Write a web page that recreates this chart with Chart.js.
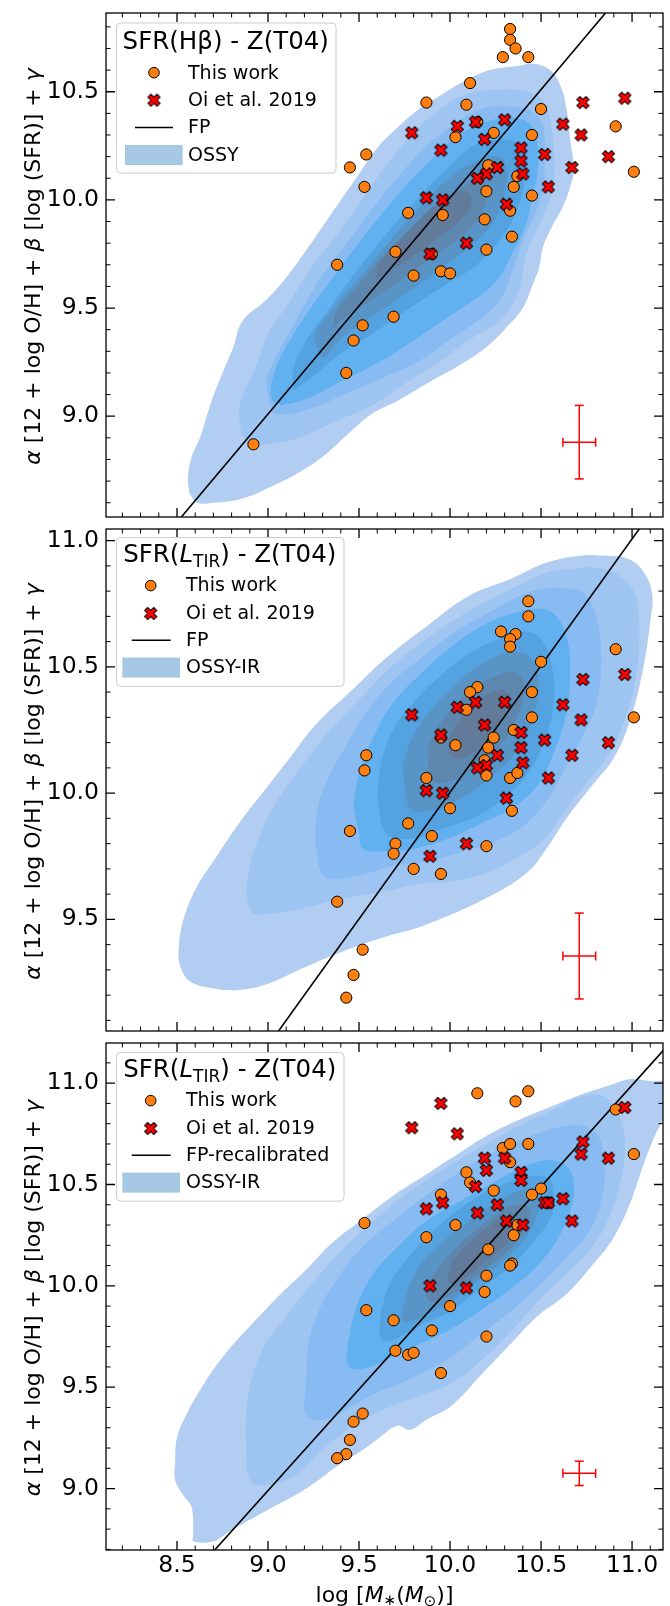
<!DOCTYPE html>
<html><head><meta charset="utf-8">
<script src="https://cdn.jsdelivr.net/npm/chart.js@4.4.1/dist/chart.umd.min.js"></script>
<style>
html,body{margin:0;padding:0;background:#fff;}
#wrap{position:relative;width:670px;height:1606px;overflow:hidden;}
canvas{position:absolute;left:0;}
</style></head><body>
<div id="wrap">
<canvas id="c1" width="670" height="524" style="top:0px"></canvas>
<canvas id="c2" width="670" height="516" style="top:522px"></canvas>
<canvas id="c3" width="670" height="570" style="top:1036px"></canvas>
</div>
<script>
// ---------------- DATA ----------------
const xRange = [8.11, 11.17];
const yRangeP1 = [8.534, 10.864];
const yRangeP2 = [9.058, 11.046];
const yRangeP3 = [8.697, 11.198];

// "This work"
const thisWorkMassP1 = [10.33,10.33,10.36,10.29,10.43,10.11,9.87,10.09,10.50,10.15,10.03,10.24,10.45,10.91,9.54,9.45,10.21,10.37,11.01,9.53,10.20,10.35,10.45,9.77,9.96,10.19,10.33,10.34,9.70,9.90,10.20,9.38,9.80,9.95,10.00,9.69,9.52,9.47,9.43,8.92];
const thisWorkP1 = [10.79,10.74,10.70,10.66,10.66,10.54,10.45,10.44,10.42,10.36,10.29,10.31,10.30,10.34,10.21,10.15,10.16,10.11,10.13,10.06,10.04,10.06,10.02,9.94,9.93,9.91,9.95,9.83,9.76,9.75,9.77,9.70,9.65,9.67,9.66,9.46,9.42,9.35,9.20,8.87];
const thisWorkMassP2 = [10.43,10.43,10.28,10.36,10.33,10.33,10.91,10.50,10.15,10.11,10.45,10.09,10.45,11.01,9.95,10.35,10.24,10.03,10.21,9.54,9.53,10.19,10.20,9.87,10.33,10.37,10.00,10.34,9.77,9.45,9.70,9.90,9.69,10.20,9.80,9.95,9.38,9.52,9.47,9.43];
const thisWorkP2 = [10.76,10.70,10.64,10.63,10.61,10.58,10.57,10.52,10.42,10.40,10.40,10.33,10.30,10.30,10.22,10.25,10.22,10.19,10.18,10.15,10.09,10.13,10.07,10.06,10.06,10.08,9.94,9.93,9.88,9.85,9.80,9.83,9.76,9.79,9.70,9.68,9.57,9.38,9.28,9.19];
const thisWorkMassP3 = [10.43,10.15,10.36,10.29,10.33,10.43,10.33,11.01,10.91,10.09,10.11,10.24,9.95,10.45,10.50,10.54,9.53,10.03,10.37,9.87,10.35,10.21,10.34,10.33,10.20,10.19,10.00,9.54,9.69,9.90,10.20,9.70,9.77,9.80,9.95,9.52,9.47,9.45,9.43,9.38];
const thisWorkP3 = [10.96,10.95,10.91,10.68,10.70,10.70,10.61,10.65,10.87,10.56,10.51,10.47,10.45,10.45,10.48,10.41,10.31,10.30,10.30,10.24,10.25,10.18,10.11,10.10,10.05,9.97,9.90,9.88,9.83,9.78,9.75,9.68,9.66,9.67,9.57,9.37,9.33,9.24,9.17,9.15];

// "Oi et al. 2019"
const oiMass = [9.79,9.95,10.04,10.14,10.30,10.19,10.39,10.39,10.52,10.62,10.73,10.72,10.96,10.87,10.67,10.26,10.20,10.15,10.40,10.54,9.87,9.96,10.31,10.09,9.89];
const oiP1 = [10.31,10.23,10.34,10.36,10.37,10.28,10.24,10.18,10.21,10.35,10.45,10.30,10.47,10.20,10.15,10.15,10.12,10.10,10.12,10.06,10.01,10.00,9.98,9.80,9.75];
const oiP2 = [10.31,10.23,10.34,10.36,10.36,10.27,10.24,10.18,10.21,10.35,10.45,10.29,10.47,10.20,10.15,10.15,10.11,10.10,10.12,10.06,10.01,10.00,9.98,9.80,9.75];
const oiP3 = [10.78,10.90,10.75,10.49,10.63,10.63,10.56,10.52,10.41,10.43,10.71,10.65,10.88,10.63,10.32,10.40,10.57,10.36,10.30,10.41,10.38,10.41,10.32,9.99,10.00];

// FP lines (two end points each)
const fpP1 = [[8.30,8.31],[11.00,11.01]];
const fpP2 = [[9.00,9.00],[11.10,11.107]];
const fpP3 = [[8.50,8.49],[11.30,11.29]];

// typical error bars: [x, y, xerr, yerr]
const errP1 = [10.71, 8.88, 0.09, 0.17];
const errP2 = [10.71, 9.355, 0.09, 0.17];
const errP3 = [10.71, 9.075, 0.09, 0.06];

// OSSY KDE filled contours (outer -> inner), vertices [mass, y]
const ossyP1 = [
 [[8.57,8.64],[8.56,8.71],[8.58,8.81],[8.63,8.91],[8.69,9.07],[8.76,9.22],[8.81,9.32],[8.86,9.44],[8.98,9.53],[9.07,9.61],[9.17,9.72],[9.27,9.84],[9.40,10.00],[9.50,10.12],[9.59,10.23],[9.68,10.31],[9.83,10.42],[9.96,10.49],[10.08,10.55],[10.22,10.60],[10.38,10.62],[10.45,10.63],[10.55,10.60],[10.61,10.52],[10.64,10.42],[10.66,10.28],[10.68,10.14],[10.66,10.06],[10.62,9.97],[10.55,9.86],[10.51,9.78],[10.49,9.69],[10.45,9.60],[10.40,9.50],[10.31,9.41],[10.20,9.32],[10.06,9.24],[9.87,9.15],[9.71,9.07],[9.57,9.01],[9.43,8.91],[9.31,8.82],[9.17,8.74],[9.03,8.68],[8.86,8.62],[8.70,8.60],[8.61,8.60]],
 [[8.88,8.88],[8.85,8.94],[8.85,9.07],[8.93,9.22],[9.00,9.38],[9.12,9.53],[9.24,9.69],[9.38,9.84],[9.50,9.98],[9.64,10.15],[9.80,10.31],[9.96,10.43],[10.10,10.49],[10.29,10.51],[10.43,10.50],[10.51,10.46],[10.55,10.37],[10.57,10.23],[10.57,10.09],[10.54,9.98],[10.48,9.87],[10.42,9.75],[10.37,9.56],[10.27,9.44],[10.10,9.35],[9.94,9.25],[9.75,9.15],[9.57,9.05],[9.38,8.98],[9.17,8.90],[8.98,8.87]],
 [[9.03,9.01],[8.99,9.15],[9.03,9.25],[9.12,9.39],[9.21,9.53],[9.33,9.69],[9.47,9.84],[9.59,9.98],[9.73,10.12],[9.87,10.25],[10.01,10.34],[10.17,10.42],[10.34,10.43],[10.45,10.41],[10.51,10.34],[10.52,10.21],[10.51,10.06],[10.47,9.94],[10.41,9.83],[10.35,9.69],[10.29,9.56],[10.20,9.47],[10.01,9.36],[9.82,9.25],[9.64,9.18],[9.47,9.12],[9.28,9.05],[9.12,9.01]],
 [[9.07,9.05],[9.02,9.08],[9.03,9.19],[9.10,9.32],[9.21,9.47],[9.33,9.61],[9.47,9.77],[9.61,9.92],[9.75,10.06],[9.89,10.18],[10.03,10.29],[10.20,10.36],[10.34,10.38],[10.44,10.35],[10.48,10.26],[10.48,10.12],[10.45,10.00],[10.41,9.87],[10.34,9.75],[10.27,9.64],[10.17,9.56],[10.01,9.47],[9.82,9.36],[9.61,9.25],[9.40,9.16],[9.21,9.08]],
 [[9.14,9.12],[9.14,9.22],[9.21,9.35],[9.33,9.49],[9.45,9.63],[9.59,9.78],[9.73,9.92],[9.85,10.03],[9.99,10.15],[10.13,10.25],[10.27,10.28],[10.37,10.26],[10.41,10.17],[10.40,10.04],[10.34,9.90],[10.24,9.78],[10.13,9.69],[9.96,9.60],[9.78,9.50],[9.59,9.39],[9.40,9.29],[9.24,9.18]],
 [[9.28,9.29],[9.26,9.38],[9.35,9.49],[9.47,9.61],[9.59,9.73],[9.73,9.87],[9.87,10.00],[10.01,10.11],[10.15,10.18],[10.27,10.20],[10.31,10.14],[10.30,10.03],[10.24,9.90],[10.13,9.80],[9.96,9.69],[9.78,9.58],[9.59,9.47],[9.40,9.36],[9.31,9.27]],
 [[9.35,9.40],[9.38,9.49],[9.50,9.61],[9.61,9.72],[9.75,9.84],[9.89,9.95],[10.03,10.04],[10.15,10.09],[10.20,10.06],[10.19,9.97],[10.10,9.86],[9.96,9.77],[9.78,9.66],[9.59,9.55],[9.43,9.46]],
 [[9.59,9.63],[9.61,9.70],[9.71,9.80],[9.82,9.90],[9.96,10.00],[10.08,10.04],[10.12,10.00],[10.07,9.92],[9.94,9.83],[9.78,9.73],[9.64,9.66]]
];
const ossyP2 = [
 [[8.75,9.22],[8.58,9.25],[8.52,9.31],[8.51,9.39],[8.54,9.51],[8.61,9.63],[8.70,9.73],[8.84,9.88],[8.98,10.01],[9.12,10.14],[9.26,10.27],[9.45,10.40],[9.64,10.53],[9.87,10.66],[10.10,10.78],[10.34,10.85],[10.52,10.91],[10.71,10.94],[10.85,10.94],[10.97,10.93],[11.06,10.88],[11.11,10.79],[11.10,10.68],[11.06,10.49],[10.99,10.29],[10.90,10.14],[10.78,10.03],[10.64,9.90],[10.52,9.77],[10.43,9.69],[10.24,9.60],[9.87,9.48],[9.64,9.43],[9.40,9.37],[9.17,9.30],[8.98,9.24],[8.84,9.22]],
 [[8.88,9.60],[8.90,9.71],[8.96,9.84],[9.05,9.97],[9.19,10.11],[9.33,10.24],[9.50,10.37],[9.66,10.49],[9.87,10.61],[10.10,10.72],[10.34,10.81],[10.52,10.87],[10.69,10.89],[10.83,10.89],[10.95,10.85],[11.02,10.78],[11.04,10.62],[11.02,10.45],[10.96,10.29],[10.88,10.16],[10.76,10.05],[10.64,9.94],[10.52,9.82],[10.38,9.75],[10.22,9.69],[10.01,9.65],[9.82,9.64],[9.64,9.61],[9.40,9.58],[9.17,9.54],[8.98,9.52],[8.91,9.53]],
 [[9.26,9.80],[9.27,9.93],[9.33,10.06],[9.43,10.19],[9.54,10.32],[9.68,10.44],[9.85,10.54],[10.01,10.63],[10.20,10.71],[10.38,10.78],[10.52,10.81],[10.64,10.81],[10.74,10.79],[10.81,10.68],[10.83,10.53],[10.81,10.37],[10.74,10.24],[10.64,10.11],[10.55,9.99],[10.45,9.90],[10.29,9.82],[10.08,9.77],[9.87,9.73],[9.68,9.71],[9.47,9.67],[9.31,9.67]],
 [[9.47,9.95],[9.50,10.08],[9.57,10.21],[9.68,10.35],[9.82,10.46],[9.99,10.57],[10.17,10.66],[10.34,10.71],[10.48,10.73],[10.57,10.71],[10.64,10.62],[10.66,10.48],[10.64,10.32],[10.57,10.16],[10.48,10.03],[10.34,9.94],[10.17,9.88],[9.99,9.82],[9.80,9.78],[9.64,9.77],[9.52,9.78],[9.50,9.84]],
 [[9.60,9.99],[9.62,10.11],[9.68,10.24],[9.80,10.36],[9.94,10.46],[10.10,10.55],[10.27,10.61],[10.41,10.64],[10.50,10.61],[10.56,10.50],[10.57,10.36],[10.52,10.21],[10.43,10.08],[10.31,9.99],[10.15,9.91],[9.96,9.86],[9.78,9.82],[9.65,9.84]],
 [[9.74,10.11],[9.80,10.23],[9.92,10.35],[10.06,10.45],[10.22,10.53],[10.36,10.56],[10.45,10.53],[10.49,10.42],[10.45,10.29],[10.36,10.16],[10.22,10.06],[10.06,9.98],[9.89,9.93],[9.78,9.94]],
 [[9.88,10.19],[9.96,10.29],[10.10,10.40],[10.24,10.46],[10.36,10.48],[10.41,10.42],[10.38,10.32],[10.29,10.20],[10.15,10.11],[10.01,10.05],[9.90,10.05]],
 [[10.03,10.27],[10.13,10.35],[10.24,10.40],[10.31,10.40],[10.31,10.33],[10.24,10.24],[10.13,10.16],[10.02,10.14],[9.99,10.19]]
];
const ossyP3 = [
 [[8.59,8.77],[8.59,8.74],[8.70,8.74],[8.79,8.79],[9.03,8.91],[9.21,9.00],[9.38,9.11],[9.52,9.19],[9.61,9.25],[9.71,9.31],[9.78,9.29],[9.87,9.34],[10.01,9.41],[10.17,9.56],[10.34,9.72],[10.48,9.85],[10.64,9.96],[10.78,10.10],[10.90,10.24],[10.99,10.41],[11.06,10.59],[11.12,10.73],[11.20,10.89],[11.19,11.00],[11.10,11.01],[10.99,11.02],[10.88,10.99],[10.74,10.95],[10.57,10.89],[10.38,10.82],[10.22,10.75],[10.06,10.66],[9.87,10.55],[9.68,10.44],[9.52,10.33],[9.35,10.21],[9.21,10.08],[9.07,9.96],[8.91,9.81],[8.77,9.67],[8.65,9.52],[8.56,9.38],[8.50,9.25],[8.49,9.13],[8.49,9.04],[8.54,8.96],[8.58,8.91]],
 [[8.88,9.18],[8.88,9.36],[8.91,9.54],[8.98,9.70],[9.10,9.85],[9.24,10.01],[9.40,10.17],[9.59,10.33],[9.80,10.48],[10.01,10.60],[10.20,10.70],[10.38,10.79],[10.57,10.87],[10.71,10.93],[10.83,10.94],[10.90,10.89],[10.95,10.78],[10.96,10.64],[10.93,10.50],[10.88,10.35],[10.78,10.19],[10.64,10.06],[10.50,9.94],[10.34,9.78],[10.17,9.63],[10.01,9.52],[9.87,9.47],[9.75,9.43],[9.61,9.38],[9.47,9.31],[9.31,9.20],[9.12,9.05],[8.93,9.02],[8.89,9.07]],
 [[9.21,9.52],[9.22,9.70],[9.28,9.88],[9.40,10.06],[9.54,10.21],[9.73,10.35],[9.92,10.48],[10.10,10.59],[10.29,10.68],[10.48,10.75],[10.64,10.79],[10.76,10.78],[10.83,10.71],[10.85,10.57],[10.83,10.42],[10.76,10.26],[10.64,10.14],[10.50,10.01],[10.34,9.88],[10.17,9.76],[10.01,9.65],[9.87,9.58],[9.73,9.52],[9.59,9.47],[9.45,9.40],[9.31,9.34],[9.21,9.36]],
 [[9.44,9.72],[9.48,9.88],[9.57,10.05],[9.71,10.19],[9.87,10.32],[10.06,10.42],[10.24,10.51],[10.41,10.59],[10.55,10.62],[10.64,10.59],[10.68,10.50],[10.66,10.37],[10.59,10.23],[10.48,10.10],[10.34,9.99],[10.17,9.88],[10.01,9.79],[9.85,9.72],[9.68,9.65],[9.52,9.59],[9.44,9.61]],
 [[9.62,9.87],[9.67,10.01],[9.78,10.15],[9.92,10.28],[10.10,10.41],[10.29,10.50],[10.43,10.54],[10.54,10.53],[10.57,10.44],[10.55,10.33],[10.45,10.21],[10.34,10.10],[10.17,9.99],[10.01,9.88],[9.85,9.81],[9.68,9.73],[9.62,9.74]],
 [[9.76,9.97],[9.85,10.12],[9.99,10.24],[10.15,10.35],[10.31,10.44],[10.43,10.48],[10.49,10.44],[10.48,10.35],[10.41,10.23],[10.29,10.12],[10.13,10.01],[9.96,9.90],[9.80,9.83],[9.74,9.83]],
 [[9.88,10.01],[9.96,10.12],[10.08,10.23],[10.22,10.33],[10.36,10.40],[10.43,10.39],[10.43,10.32],[10.36,10.21],[10.22,10.10],[10.06,9.99],[9.92,9.92],[9.87,9.94]],
 [[10.01,10.12],[10.10,10.21],[10.24,10.31],[10.34,10.34],[10.37,10.30],[10.31,10.21],[10.17,10.10],[10.03,10.01],[9.99,10.03]]
];
const ossyColors = ['#b1cdf1','#9ec5f2','#88bbf1','#61b0f0','#54a2e0','#5994c7','#5e87af','#627b9a'];

// ---------------- STYLE / HELPERS ----------------
const FAM = '"DejaVu Sans"';
Chart.defaults.font.family = 'DejaVu Sans';
Chart.defaults.color = '#000';
const TICK_FONT = 23.5, LEG_FONT = 19, LEG_TITLE = 24.5, AX_FONT = 22;
const ORANGE = '#ff7f0e', RED = '#ff0000';

function makeX(size){
  const S = Math.ceil(size + 4);
  const c = document.createElement('canvas'); c.width = S; c.height = S;
  const g = c.getContext('2d');
  g.translate(S/2, S/2); g.rotate(Math.PI/4);
  const k = size/6;
  const pts = [[-1,-3],[1,-3],[1,-1],[3,-1],[3,1],[1,1],[1,3],[-1,3],[-1,1],[-3,1],[-3,-1],[-1,-1]];
  g.beginPath();
  pts.forEach((p,i)=>{ const X=p[0]*k, Y=p[1]*k; i ? g.lineTo(X,Y) : g.moveTo(X,Y); });
  g.closePath();
  g.fillStyle = RED; g.fill();
  g.lineWidth = 1; g.strokeStyle = '#000'; g.stroke();
  return c;
}
const xMarker = makeX(13);

function toXY(xs, ys){ return xs.map((x,i)=>({x:x, y:ys[i]})); }

function runsWidth(ctx, runs){ let w=0; for(const r of runs){ ctx.font=r.f; w+=ctx.measureText(r.t).width; } return w; }
function drawRuns(ctx, runs, x, y, align){
  const w = runsWidth(ctx, runs);
  let cx = align==='center' ? x - w/2 : x;
  ctx.textAlign='left'; ctx.textBaseline='alphabetic'; ctx.fillStyle='#000';
  for(const r of runs){ ctx.font=r.f; ctx.fillText(r.t, cx, y + (r.dy||0)); cx += ctx.measureText(r.t).width; }
}
const nf = s => s + 'px ' + FAM;
const itf = s => 'italic ' + s + 'px ' + FAM;

const yTitleRuns = [
  {t:'α', f:itf(AX_FONT)}, {t:' [12 + log O/H] + ', f:nf(AX_FONT)},
  {t:'β', f:itf(AX_FONT)}, {t:' [log (SFR)] + ', f:nf(AX_FONT)},
  {t:'γ', f:itf(AX_FONT)}
];
const xTitleRuns = [
  {t:'log [', f:nf(AX_FONT)}, {t:'M', f:itf(AX_FONT)}, {t:'∗', f:nf(15), dy:3},
  {t:'(', f:nf(AX_FONT)}, {t:'M', f:itf(AX_FONT)}, {t:'⊙', f:nf(15), dy:4}, {t:')]', f:nf(AX_FONT)}
];
const titleHb = [{t:'SFR(Hβ) - Z(T04)', f:nf(LEG_TITLE)}];
const titleTIR = [{t:'SFR(', f:nf(LEG_TITLE)}, {t:'L', f:itf(LEG_TITLE)}, {t:'TIR', f:nf(17), dy:5}, {t:') - Z(T04)', f:nf(LEG_TITLE)}];

function roundRect(ctx,x,y,w,h,r){
  ctx.beginPath(); ctx.moveTo(x+r,y); ctx.lineTo(x+w-r,y); ctx.quadraticCurveTo(x+w,y,x+w,y+r);
  ctx.lineTo(x+w,y+h-r); ctx.quadraticCurveTo(x+w,y+h,x+w-r,y+h); ctx.lineTo(x+r,y+h);
  ctx.quadraticCurveTo(x,y+h,x,y+h-r); ctx.lineTo(x,y+r); ctx.quadraticCurveTo(x,y,x+r,y); ctx.closePath();
}

function drawLegend(ctx, L){
  const b = L.box;
  ctx.save();
  roundRect(ctx, b[0]+0.5, b[1]+0.5, b[2]-b[0], b[3]-b[1], 4);
  ctx.fillStyle='rgba(255,255,255,0.8)'; ctx.fill();
  ctx.strokeStyle='#cccccc'; ctx.lineWidth=1; ctx.stroke();
  drawRuns(ctx, L.title, (b[0]+b[2])/2, b[1]+L.titleBase, 'center');
  const rows = L.rows.map(r=>b[1]+r);
  ctx.beginPath(); ctx.arc(L.mx, rows[0], 5.3, 0, Math.PI*2);
  ctx.fillStyle=ORANGE; ctx.fill(); ctx.lineWidth=1; ctx.strokeStyle='#000'; ctx.stroke();
  ctx.drawImage(xMarker, L.mx - xMarker.width/2, rows[1] - xMarker.height/2);
  ctx.beginPath(); ctx.moveTo(L.line[0], rows[2]); ctx.lineTo(L.line[1], rows[2]);
  ctx.lineWidth=1.6; ctx.strokeStyle='#000'; ctx.stroke();
  ctx.fillStyle=L.patchColor; ctx.fillRect(L.patch[0], rows[3]-10, L.patch[1]-L.patch[0], 20);
  L.labels.forEach((t,i)=>drawRuns(ctx, [{t:t, f:nf(LEG_FONT)}], L.tx, rows[i]+5.8, 'left'));
  ctx.restore();
}

const decor = {
  id:'decor',
  afterDatasetsDraw(chart, args, opts){
    const ctx = chart.ctx, a = chart.chartArea;
    const xs = chart.scales.x, ys = chart.scales.y;
    ctx.save();
    ctx.strokeStyle='#000';
    const ticks = (scale, horiz) => {
      const lo = Math.ceil(scale.min*10 - 1e-6), hi = Math.floor(scale.max*10 + 1e-6);
      for (let k=lo; k<=hi; k++){
        const major = (k % 5 === 0);
        const len = major ? 9 : 4.5;
        const p = scale.getPixelForValue(k/10);
        ctx.lineWidth = major ? 1.3 : 1.0;
        ctx.beginPath();
        if (horiz){ ctx.moveTo(p,a.bottom); ctx.lineTo(p,a.bottom-len); ctx.moveTo(p,a.top); ctx.lineTo(p,a.top+len); }
        else { ctx.moveTo(a.left,p); ctx.lineTo(a.left+len,p); ctx.moveTo(a.right,p); ctx.lineTo(a.right-len,p); }
        ctx.stroke();
      }
    };
    ticks(xs, true); ticks(ys, false);
    ctx.lineWidth = 1.3;
    ctx.strokeRect(a.left, a.top, a.right-a.left, a.bottom-a.top);
    drawLegend(ctx, opts.legend);
    ctx.save();
    ctx.translate(40, (a.top+a.bottom)/2 + 1.5);
    ctx.rotate(-Math.PI/2);
    drawRuns(ctx, yTitleRuns, 0, 0, 'center');
    ctx.restore();
    if (opts.xTitle){ drawRuns(ctx, xTitleRuns, (a.left+a.right)/2, a.bottom + 51.5, 'center'); }
    ctx.restore();
  }
};

function makePanel(id, cfg){
  const ds = [];
  cfg.ossy.forEach((pts,i)=>{
    ds.push({
      data: pts.concat([pts[0]]).map(p=>({x:p[0], y:p[1]})),
      showLine:true, fill:'shape', backgroundColor:ossyColors[i], borderColor:'rgba(0,0,0,0)',
      borderWidth:0, pointRadius:0, pointHoverRadius:0, tension:0.4, order:100-i
    });
  });
  ds.push({ data: cfg.fp.map(p=>({x:p[0], y:p[1]})), showLine:true, borderColor:'#000', borderWidth:1.6,
            pointRadius:0, fill:false, tension:0, order:10 });
  const e = cfg.err;
  ds.push({ data:[{x:e[0], y:e[1]-e[3]}, {x:e[0], y:e[1]+e[3]}], showLine:true, borderColor:RED, borderWidth:1.5,
            pointStyle:'line', pointRadius:4.5, pointBorderColor:RED, pointBorderWidth:1.5, pointRotation:0, fill:false, order:9 });
  ds.push({ data:[{x:e[0]-e[2], y:e[1]}, {x:e[0]+e[2], y:e[1]}], showLine:true, borderColor:RED, borderWidth:1.5,
            pointStyle:'line', pointRadius:4.5, pointBorderColor:RED, pointBorderWidth:1.5, pointRotation:90, fill:false, order:9 });
  ds.push({ data: toXY(cfg.twX, cfg.twY), pointRadius:5.6, pointBackgroundColor:ORANGE, pointBorderColor:'#000',
            pointBorderWidth:1, order:5 });
  ds.push({ data: toXY(oiMass, cfg.oiY), pointStyle:xMarker, pointRadius:6, order:1 });

  return new Chart(document.getElementById(id), {
    type:'scatter',
    data:{ datasets: ds },
    options:{
      responsive:false, animation:false, devicePixelRatio:1,
      events:[],
      layout:{ padding:{ top:cfg.padTop, bottom:cfg.padBottom, left:0, right:6.5 } },
      plugins:{ legend:{display:false}, tooltip:{enabled:false},
                decor:{ legend:cfg.legend, xTitle:cfg.showX } },
      scales:{
        x:{ type:'linear', min:xRange[0], max:xRange[1], display:cfg.showX,
            grid:{display:false, drawTicks:false}, border:{display:false},
            ticks:{ stepSize:0.5, includeBounds:false, padding:2, font:{size:TICK_FONT}, color:'#000',
                    callback:v=>v.toFixed(1) },
            afterFit:s=>{ s.height = cfg.showX ? 56 : 0; s.paddingLeft = 0; s.paddingRight = 0; } },
        y:{ type:'linear', min:cfg.yr[0], max:cfg.yr[1],
            grid:{display:false, drawTicks:false}, border:{display:false},
            ticks:{ stepSize:0.5, includeBounds:false, padding:7, font:{size:TICK_FONT}, color:'#000',
                    callback:v=>v.toFixed(1) },
            afterFit:s=>{ s.width = 106; s.paddingTop = 0; s.paddingBottom = 0; } }
      }
    },
    plugins:[decor]
  });
}

const legP1 = { box:[116,22.5,335.5,172.6], title:titleHb, titleBase:26.8, rows:[50.2,77.7,105,132.5],
  mx:154, line:[135,173], patch:[125,182.7], tx:188, patchColor:'#a5c9e4', labels:['This work','Oi et al. 2019','FP','OSSY'] };
const legP2 = { box:[116,15,343.5,163.8], title:titleTIR, titleBase:25, rows:[48.6,76.5,103.3,130.6],
  mx:150.7, line:[131.7,170.7], patch:[122.3,180], tx:186, patchColor:'#a5c9e4', labels:['This work','Oi et al. 2019','FP','OSSY-IR'] };
const legP3 = { box:[116,16,343.5,164.6], title:titleTIR, titleBase:25, rows:[48.6,76.5,103.3,130.6],
  mx:150.7, line:[131.7,170.7], patch:[122.3,180], tx:186, patchColor:'#a5c9e4', labels:['This work','Oi et al. 2019','FP-recalibrated','OSSY-IR'] };

makePanel('c1', { yr:yRangeP1, ossy:ossyP1, fp:fpP1, err:errP1, twX:thisWorkMassP1, twY:thisWorkP1, oiY:oiP1,
                  padTop:13, padBottom:2, showX:false, legend:legP1 });
makePanel('c2', { yr:yRangeP2, ossy:ossyP2, fp:fpP2, err:errP2, twX:thisWorkMassP2, twY:thisWorkP2, oiY:oiP2,
                  padTop:5, padBottom:2, showX:false, legend:legP2 });
makePanel('c3', { yr:yRangeP3, ossy:ossyP3, fp:fpP3, err:errP3, twX:thisWorkMassP3, twY:thisWorkP3, oiY:oiP3,
                  padTop:6, padBottom:0, showX:true, legend:legP3 });
</script>
</body></html>
